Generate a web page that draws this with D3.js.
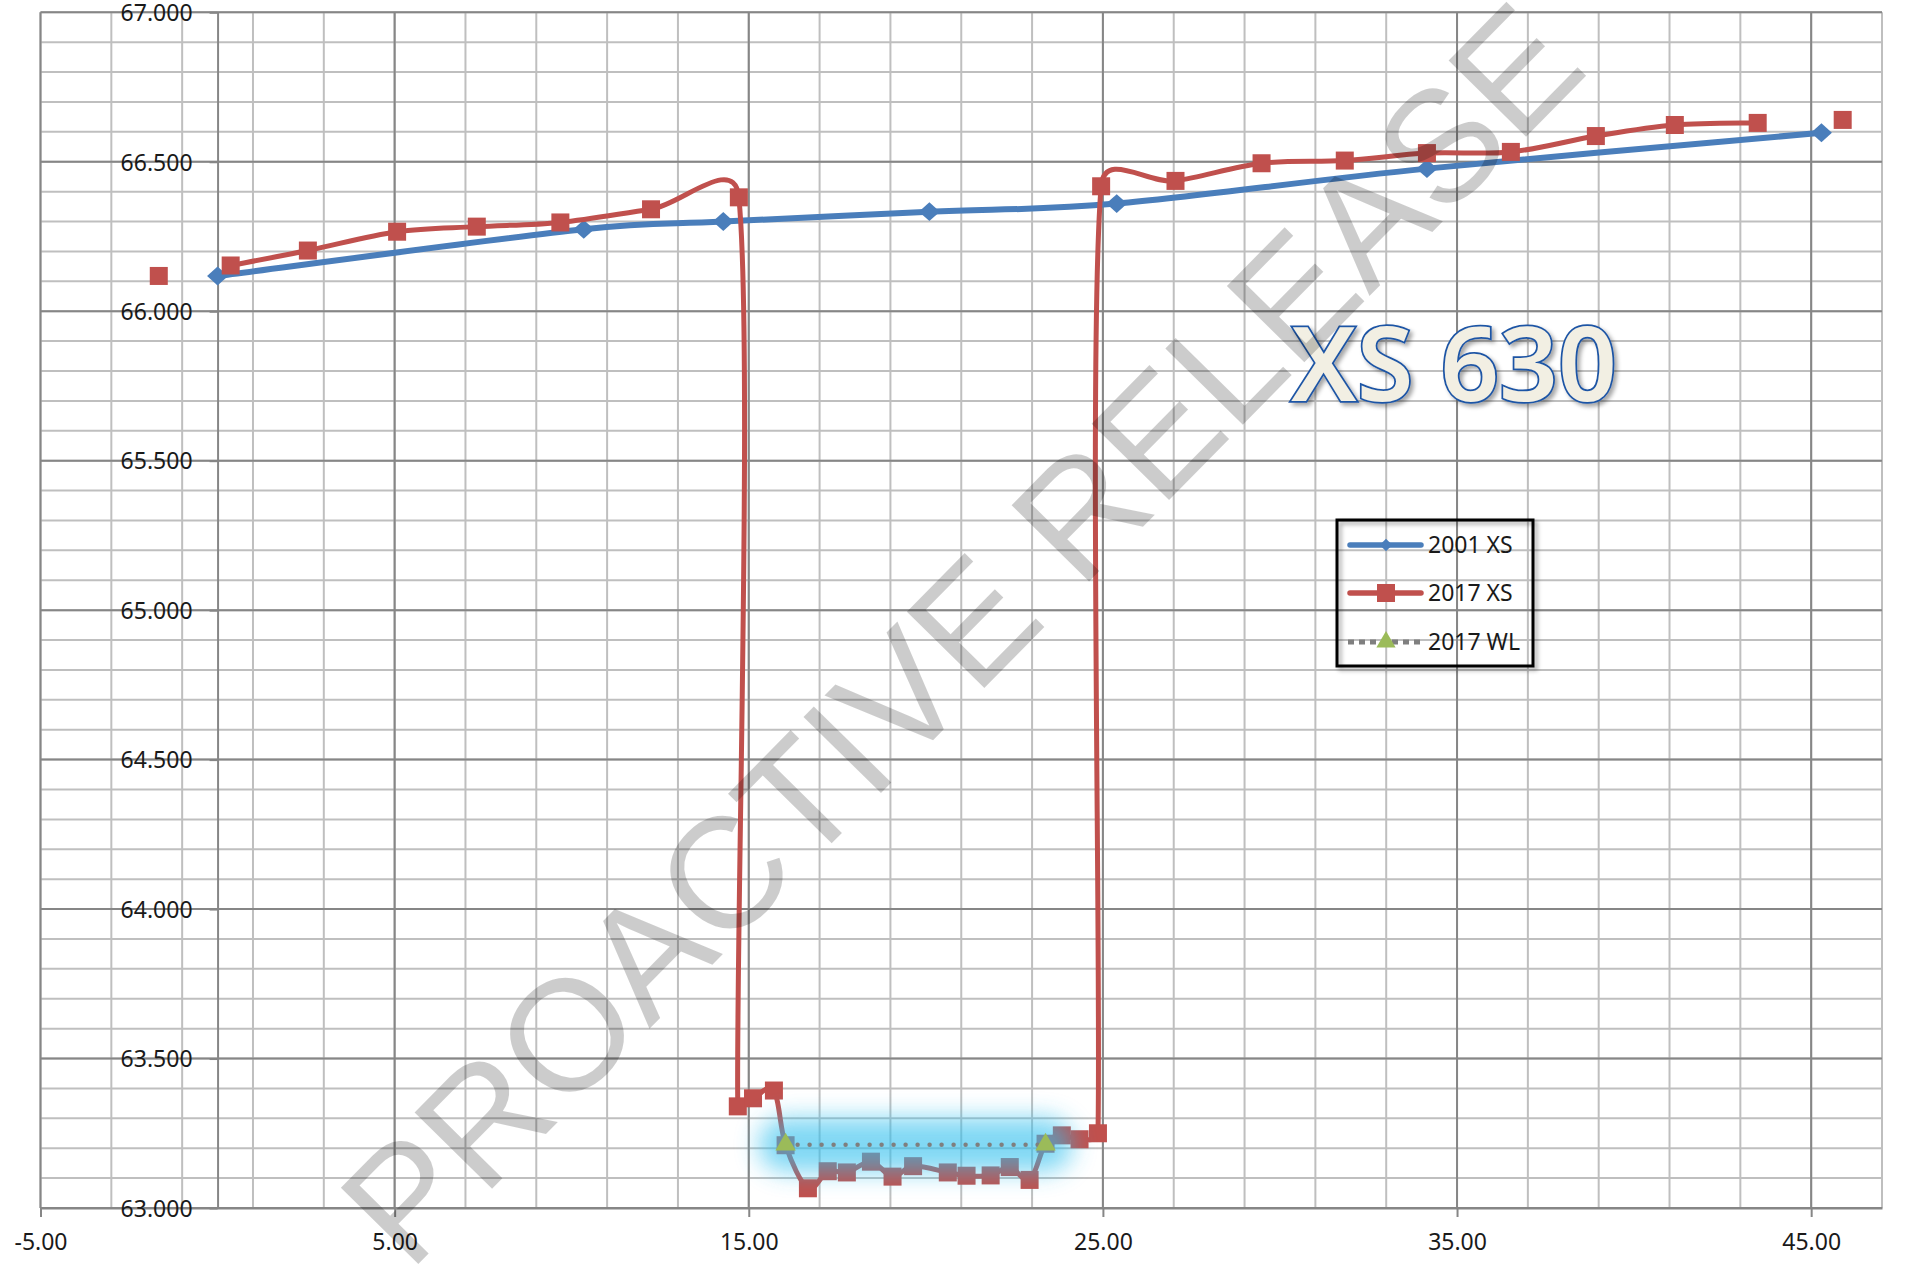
<!DOCTYPE html>
<html>
<head>
<meta charset="utf-8">
<script src="https://cdn.jsdelivr.net/npm/d3@7"></script>
<style>
  body { margin: 0; background: #fff; }
  svg { display: block; }
</style>
</head>
<body>
<svg id="chart" width="1925" height="1267"></svg>
<script>
// ---------- DATA ----------
const xTickValues = [-5, 5, 15, 25, 35, 45];
const yTickValues = [63, 63.5, 64, 64.5, 65, 65.5, 66, 66.5, 67];
const seriesNames = ["2001 XS", "2017 XS", "2017 WL"];
const chartTitle = "XS 630";
const watermarkText = "PROACTIVE RELEASE";

const xs2001X = [0, 10.34, 14.28, 20.10, 25.39, 34.15, 45.29];
const xs2001Y = [66.118, 66.274, 66.300, 66.333, 66.360, 66.477, 66.597];

const xs2017X = [-1.66, null, 0.37, 2.55, 5.07, 7.32, 9.68, 12.24, 14.72, 14.69, 15.12, 15.71, 16.04, 16.67, 17.23, 17.77, 18.45, 19.06, 19.64, 20.62, 21.15, 21.83, 22.37, 22.93, 23.38, 23.84, 24.34, 24.86, 24.95, 27.05, 29.48, 31.83, 34.15, 36.52, 38.92, 41.15, 43.49, null, 45.89];
const xs2017Y = [66.118, null, 66.153, 66.203, 66.266, 66.283, 66.297, 66.341, 66.381, 63.340, 63.367, 63.393, 63.210, 63.066, 63.123, 63.119, 63.155, 63.105, 63.140, 63.119, 63.108, 63.109, 63.137, 63.094, 63.215, 63.243, 63.230, 63.250, 66.418, 66.436, 66.495, 66.504, 66.529, 66.533, 66.586, 66.623, 66.630, null, 66.640];

const wl2017X = [16.04, 23.38];
const wl2017Y = [63.212, 63.212];

// ---------- SETUP ----------
const svg = d3.select("#chart");
const W = 1925, H = 1267;
svg.append("rect").attr("width", W).attr("height", H).attr("fill", "#fff");

const x = d3.scaleLinear().domain([-5, 47]).range([40.5, 1882]);
const y = d3.scaleLinear().domain([63, 67]).range([1208, 12.3]);

const FONT = "'Noto Sans', 'Open Sans', sans-serif";
const BLUE = "#4a7ebb", RED = "#c0504d", GREEN = "#9bbb59", GREY = "#7f7f7f";
const MINOR = "#bfbfbf", MAJOR = "#868686";

// Spreadsheet-style smoothed line as a d3 curve (Bezier, tension 1/6,
// control arm limited to half of the segment length).
function SmoothCurve(context) { this._context = context; }
SmoothCurve.prototype = {
  areaStart() { this._line = 0; },
  areaEnd() { this._line = NaN; },
  lineStart() { this._pts = []; },
  point(px, py) { this._pts.push([+px, +py]); },
  lineEnd() {
    const p = this._pts, n = p.length, c = this._context;
    if (!n) return;
    const dist = (a, b) => Math.hypot(a[0] - b[0], a[1] - b[1]);
    c.moveTo(p[0][0], p[0][1]);
    for (let i = 0; i < n - 1; i++) {
      const p0 = p[Math.max(i - 1, 0)], p1 = p[i], p2 = p[i + 1], p3 = p[Math.min(i + 2, n - 1)];
      const d12 = dist(p1, p2), d02 = dist(p0, p2), d13 = dist(p1, p3);
      let f0 = 1 / 6, f1 = 1 / 6;
      if (d02 > 0 && d02 / 6 >= d12 / 2) f0 = d12 / 2 / d02;
      if (d13 > 0 && d13 / 6 >= d12 / 2) f1 = d12 / 2 / d13;
      c.bezierCurveTo(
        p1[0] + f0 * (p2[0] - p0[0]), p1[1] + f0 * (p2[1] - p0[1]),
        p2[0] - f1 * (p3[0] - p1[0]), p2[1] - f1 * (p3[1] - p1[1]),
        p2[0], p2[1]);
    }
  }
};
const curveSmooth = ctx => new SmoothCurve(ctx);

const defs = svg.append("defs");
const glow = defs.append("filter").attr("id", "glow")
  .attr("filterUnits", "userSpaceOnUse")
  .attr("x", 0).attr("y", 0).attr("width", W).attr("height", H);
glow.append("feGaussianBlur").attr("stdDeviation", 12);

const shadow = defs.append("filter").attr("id", "shadow")
  .attr("filterUnits", "userSpaceOnUse")
  .attr("x", 0).attr("y", 0).attr("width", W).attr("height", H);
shadow.append("feDropShadow").attr("dx", 3).attr("dy", 3).attr("stdDeviation", 2.2)
  .attr("flood-color", "#000").attr("flood-opacity", 0.35);

// ---------- GRID ----------
const grid = svg.append("g");
const xMinor = d3.range(-5, 47.001, 2);
const yMinor = d3.range(0, 41).map(i => +(63 + i * 0.1).toFixed(1));

grid.selectAll("line.vmin").data(xMinor).join("line")
  .attr("x1", d => x(d)).attr("x2", d => x(d))
  .attr("y1", y(67)).attr("y2", y(63))
  .attr("stroke", MINOR).attr("stroke-width", 2);
grid.selectAll("line.hmin").data(yMinor).join("line")
  .attr("x1", x(-5)).attr("x2", x(47))
  .attr("y1", d => y(d)).attr("y2", d => y(d))
  .attr("stroke", MINOR).attr("stroke-width", 2);
grid.selectAll("line.vmaj").data(xTickValues).join("line")
  .attr("x1", d => x(d)).attr("x2", d => x(d))
  .attr("y1", y(67)).attr("y2", y(63))
  .attr("stroke", MAJOR).attr("stroke-width", 2);
grid.selectAll("line.hmaj").data(yTickValues).join("line")
  .attr("x1", x(-5)).attr("x2", x(47))
  .attr("y1", d => y(d)).attr("y2", d => y(d))
  .attr("stroke", MAJOR).attr("stroke-width", 2);

// ---------- AXES ----------
const xAxis = svg.append("g")
  .attr("transform", `translate(0,${y(63)})`)
  .call(d3.axisBottom(x).tickValues(xTickValues).tickFormat(d => d.toFixed(2))
    .tickSize(9).tickSizeOuter(0).tickPadding(17));
const yAxis = svg.append("g")
  .attr("transform", `translate(${x(0)},0)`)
  .call(d3.axisLeft(y).tickValues(yTickValues).tickFormat(d => d.toFixed(3))
    .tickSize(8).tickSizeOuter(0).tickPadding(17));
[xAxis, yAxis].forEach(g => {
  g.select(".domain").attr("stroke", MAJOR).attr("stroke-width", 2);
  g.selectAll(".tick line").attr("stroke", MAJOR).attr("stroke-width", 2);
  g.selectAll(".tick text").attr("font-family", FONT).attr("font-size", 23)
    .attr("fill", "#1a1a1a");
});
yAxis.selectAll(".tick text").attr("dy", "0.36em");

// ---------- SERIES ----------
const pts = (xs, ys) => xs.map((v, i) => ({ x: v, y: ys[i] }));
const d2001 = pts(xs2001X, xs2001Y);
const d2017 = pts(xs2017X, xs2017Y);
const dWL = pts(wl2017X, wl2017Y);

const smooth = d3.line()
  .defined(d => d.x != null && d.y != null)
  .x(d => x(d.x)).y(d => y(d.y))
  .curve(curveSmooth);

// 2001 XS
svg.append("path").datum(d2001).attr("d", smooth)
  .attr("fill", "none").attr("stroke", BLUE).attr("stroke-width", 6)
  .attr("stroke-linejoin", "round").attr("stroke-linecap", "round");
svg.append("g").selectAll("path").data(d2001).join("path")
  .attr("d", d3.symbol(d3.symbolSquare, 220)())
  .attr("transform", d => `translate(${x(d.x)},${y(d.y)}) scale(1,0.9) rotate(45)`)
  .attr("fill", BLUE);

// 2017 XS
svg.append("path").datum(d2017).attr("d", smooth)
  .attr("fill", "none").attr("stroke", RED).attr("stroke-width", 5)
  .attr("stroke-linejoin", "round").attr("stroke-linecap", "round");
svg.append("g").selectAll("rect").data(d2017.filter(d => d.x != null)).join("rect")
  .attr("x", d => x(d.x) - 9).attr("y", d => y(d.y) - 9)
  .attr("width", 18).attr("height", 18).attr("fill", RED);

// 2017 WL glow
svg.append("path").datum(dWL).attr("d", d3.line().x(d => x(d.x)).y(d => y(d.y)))
  .attr("fill", "none").attr("stroke", "#30c0ee").attr("stroke-width", 54)
  .attr("stroke-linecap", "round").attr("opacity", 0.62)
  .attr("filter", "url(#glow)");
// 2017 WL line
svg.append("path").datum(dWL).attr("d", d3.line().x(d => x(d.x)).y(d => y(d.y)))
  .attr("fill", "none").attr("stroke", GREY).attr("stroke-width", 4.5)
  .attr("stroke-dasharray", "0 12").attr("stroke-linecap", "round");
svg.append("g").selectAll("path").data(dWL).join("path")
  .attr("d", d3.symbol(d3.symbolTriangle, 180)())
  .attr("transform", d => `translate(${x(d.x)},${y(d.y)})`)
  .attr("fill", GREEN);

// ---------- TITLE ----------
svg.append("text").text(chartTitle)
  .attr("x", 1291).attr("y", 401)
  .attr("font-family", FONT).attr("font-size", 103).attr("font-weight", 600)
  .attr("fill", "#f2efe3").attr("stroke", "#1f55a5").attr("stroke-width", 3.5)
  .attr("paint-order", "stroke")
  .attr("filter", "url(#shadow)");

// ---------- LEGEND ----------
const lg = svg.append("g");
lg.append("rect").attr("x", 1337).attr("y", 520).attr("width", 196).attr("height", 146)
  .attr("fill", "none").attr("stroke", "#000").attr("stroke-width", 3)
  .attr("filter", "url(#shadow)");
const rowsY = [545, 593, 642];
const lx1 = 1350, lx2 = 1421, lxm = 1386;
// 2001 XS
lg.append("line").attr("x1", lx1).attr("x2", lx2).attr("y1", rowsY[0]).attr("y2", rowsY[0])
  .attr("stroke", BLUE).attr("stroke-width", 5.5).attr("stroke-linecap", "round");
lg.append("path").attr("d", d3.symbol(d3.symbolSquare, 80)())
  .attr("transform", `translate(${lxm},${rowsY[0]}) rotate(45)`).attr("fill", BLUE);
// 2017 XS
lg.append("line").attr("x1", lx1).attr("x2", lx2).attr("y1", rowsY[1]).attr("y2", rowsY[1])
  .attr("stroke", RED).attr("stroke-width", 5.5).attr("stroke-linecap", "round");
lg.append("rect").attr("x", lxm - 9).attr("y", rowsY[1] - 9).attr("width", 18).attr("height", 18)
  .attr("fill", RED);
// 2017 WL
lg.append("line").attr("x1", lx1 - 2).attr("x2", lx2 + 2).attr("y1", rowsY[2]).attr("y2", rowsY[2])
  .attr("stroke", GREY).attr("stroke-width", 5).attr("stroke-dasharray", "6 5");
lg.append("path").attr("d", d3.symbol(d3.symbolTriangle, 160)())
  .attr("transform", `translate(${lxm},${rowsY[2]})`).attr("fill", GREEN);
lg.selectAll("text").data(seriesNames).join("text")
  .attr("x", 1428).attr("y", (d, i) => rowsY[i] + 8)
  .attr("font-family", FONT).attr("font-size", 23).attr("fill", "#1a1a1a")
  .text(d => d);

// ---------- WATERMARK ----------
svg.append("text").text(watermarkText)
  .attr("transform", "translate(1000,672) rotate(-45.5)")
  .attr("text-anchor", "middle")
  .attr("font-family", "'Liberation Sans', Arial, sans-serif")
  .attr("font-size", 158)
  .attr("fill", "#000").attr("fill-opacity", 0.2);
</script>
</body>
</html>
